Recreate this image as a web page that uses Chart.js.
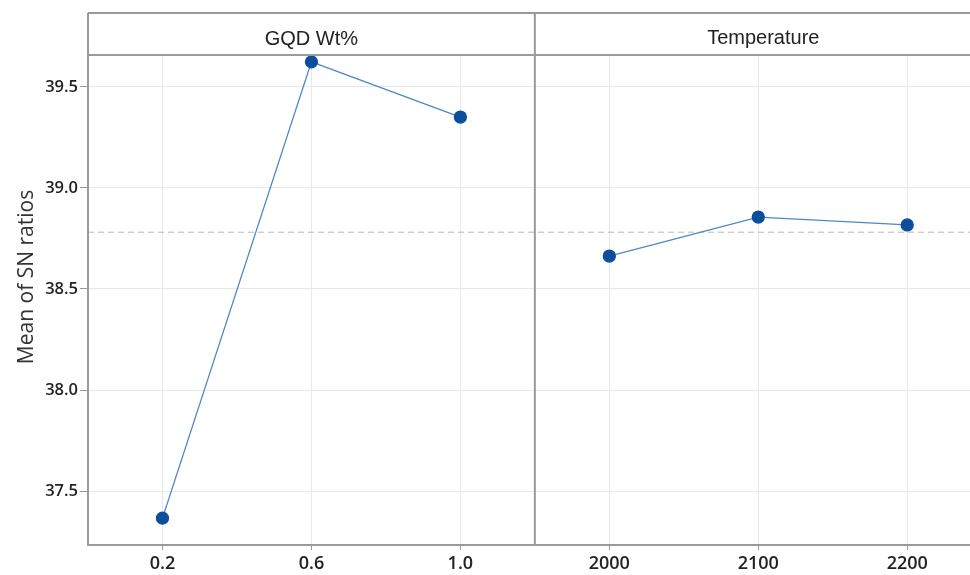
<!DOCTYPE html>
<html>
<head>
<meta charset="utf-8">
<script src="https://cdn.jsdelivr.net/npm/chart.js@4"></script>
<style>
  html, body { margin: 0; padding: 0; background: #fff; overflow: hidden; }
  #wrap { position: relative; width: 995px; height: 575px; }
</style>
</head>
<body>
<div id="wrap"><canvas id="chart" width="989" height="575"></canvas></div>
<script>
// factor levels, shown as one category axis split in two panels
const levels = ['0.2', '0.6', '1.0', '2000', '2100', '2200'];
const panelTitles = ['GQD Wt%', 'Temperature'];
const gqdMeans = [37.366, 39.624, 39.351, null, null, null];
const tempMeans = [null, null, null, 38.663, 38.856, 38.817];
const overallMean = 38.781;
const yTicks = [37.5, 38.0, 38.5, 39.0, 39.5];
const yTitle = 'Mean of SN ratios';

const frameColor = '#9a9a9a';
const tickFont = '"Open Sans", sans-serif';

const panelPlugin = {
  id: 'panels',
  beforeDatasetsDraw(chart) {
    const { ctx, chartArea: a, scales: { y } } = chart;
    const yMean = y.getPixelForValue(overallMean);
    ctx.save();
    ctx.strokeStyle = '#b8b8b8';
    ctx.lineWidth = 1;
    ctx.setLineDash([6, 4]);
    ctx.beginPath();
    ctx.moveTo(a.left, yMean);
    ctx.lineTo(a.right, yMean);
    ctx.stroke();
    ctx.restore();
  },
  afterDraw(chart) {
    const { ctx, chartArea: a, scales: { x } } = chart;
    const headTop = 13;
    const split = (x.getPixelForValue(2) + x.getPixelForValue(3)) / 2;
    ctx.save();
    ctx.strokeStyle = frameColor;
    ctx.lineWidth = 2;
    ctx.beginPath();
    ctx.moveTo(a.left, headTop); ctx.lineTo(a.right, headTop);
    ctx.moveTo(a.left, a.top); ctx.lineTo(a.right, a.top);
    ctx.moveTo(a.left, headTop); ctx.lineTo(a.left, a.bottom);
    ctx.moveTo(split, headTop); ctx.lineTo(split, a.bottom);
    ctx.stroke();

    ctx.fillStyle = '#222';
    ctx.font = '20px "Liberation Sans", Arial, sans-serif';
    ctx.textAlign = 'center';
    ctx.textBaseline = 'alphabetic';
    ctx.fillText(panelTitles[0], x.getPixelForValue(1), 45);
    ctx.fillText(panelTitles[1], x.getPixelForValue(4) + 5, 44);

    ctx.fillStyle = '#333';
    ctx.font = '21px ' + tickFont;
    ctx.translate(33, 277);
    ctx.rotate(-Math.PI / 2);
    ctx.fillText(yTitle, 0, 0);
    ctx.restore();
  }
};

new Chart(document.getElementById('chart'), {
  type: 'line',
  data: {
    labels: levels,
    datasets: [gqdMeans, tempMeans].map(d => ({
      data: d,
      borderColor: '#4f86c6',
      borderWidth: 1.3,
      pointBackgroundColor: '#0b4f9c',
      pointBorderColor: '#0b4f9c',
      pointRadius: 6,
      tension: 0,
      spanGaps: false
    }))
  },
  options: {
    responsive: false,
    animation: false,
    devicePixelRatio: 1,
    layout: { padding: { top: 55, left: 0, right: 0, bottom: 0 } },
    plugins: { legend: { display: false }, tooltip: { enabled: false } },
    scales: {
      x: {
        offset: true,
        afterFit: s => { s.height = 30; },
        grid: { color: '#e8e8e8', lineWidth: 1, offset: false, tickLength: 5, tickColor: frameColor },
        border: { color: frameColor, width: 2 },
        ticks: { color: '#222', font: { family: tickFont, size: 18, weight: '600' }, padding: 3, maxRotation: 0 }
      },
      y: {
        min: 37.233,
        max: 39.658,
        afterFit: s => { s.width = 88; },
        afterBuildTicks: s => { s.ticks = yTicks.map(v => ({ value: v })); },
        grid: { color: '#e8e8e8', lineWidth: 1, tickLength: 8, tickColor: frameColor },
        border: { color: frameColor, width: 2 },
        ticks: {
          color: '#222',
          font: { family: tickFont, size: 16.5, weight: '600' },
          padding: 2,
          callback: v => Number(v).toFixed(1)
        }
      }
    }
  },
  plugins: [panelPlugin]
});
</script>
</body>
</html>
